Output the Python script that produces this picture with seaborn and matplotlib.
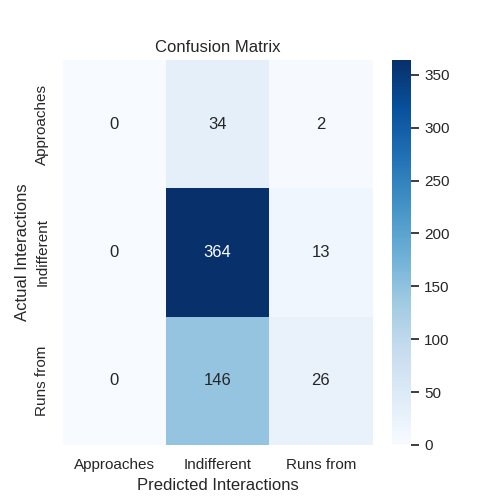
import matplotlib
matplotlib.use("Agg")
import matplotlib.pyplot as plt
import seaborn as sns
import numpy as np

labels = ["Approaches", "Indifferent", "Runs from"]
row_approaches = [0, 34, 2]
row_indifferent = [0, 364, 13]
row_runs = [0, 146, 26]

cm = np.array([row_approaches, row_indifferent, row_runs])

sns.set_theme()
plt.rcParams['font.family'] = ['Arial', 'Liberation Sans', 'DejaVu Sans']

fig, ax = plt.subplots(figsize=(5, 5), dpi=100)
sns.heatmap(cm, annot=True, fmt="d", cmap="Blues", xticklabels=labels, yticklabels=labels, ax=ax)
ax.set_xlabel("Predicted Interactions")
ax.set_ylabel("Actual Interactions")
ax.set_title("Confusion Matrix")
fig.savefig("out.png")
